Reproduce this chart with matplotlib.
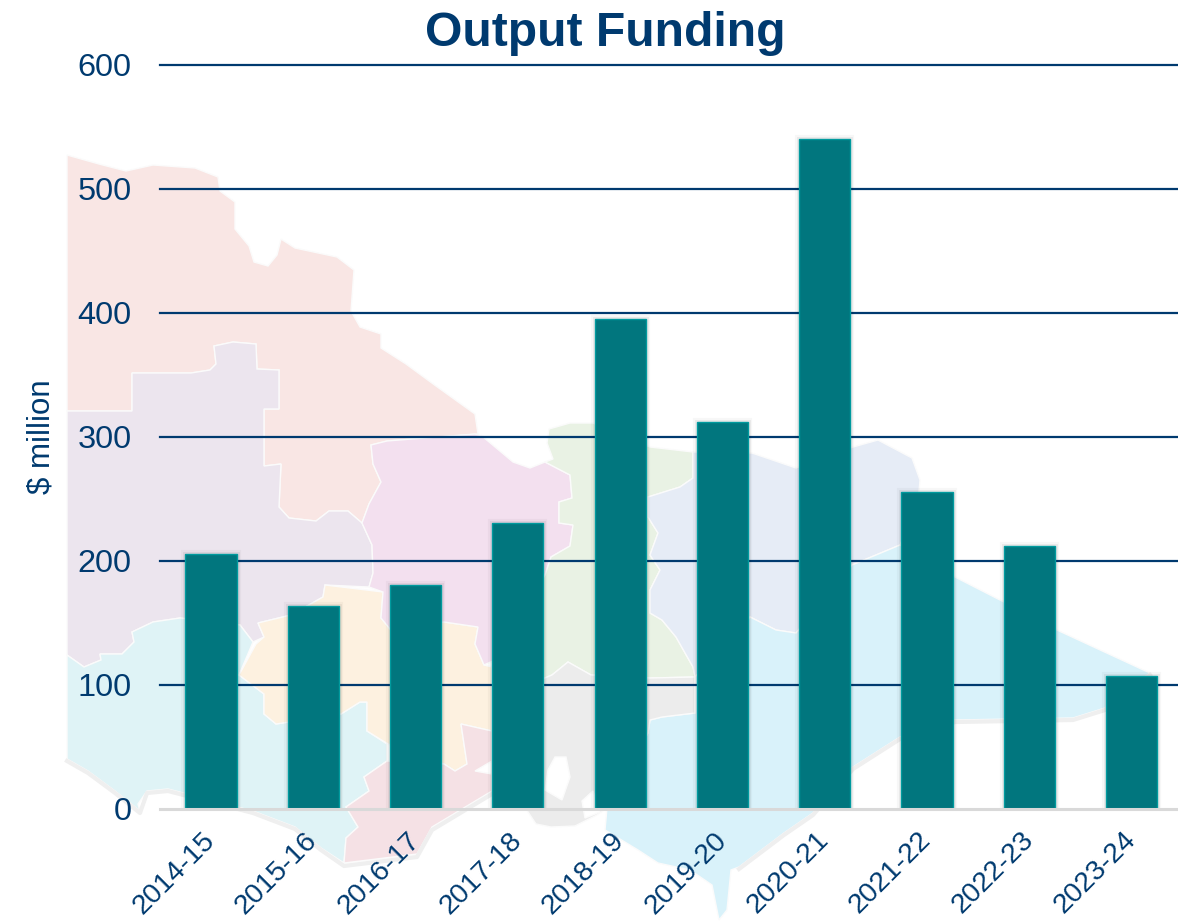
import matplotlib
matplotlib.use("Agg")
import matplotlib.pyplot as plt
import matplotlib.patheffects as pe
from matplotlib.patches import Polygon
from matplotlib.transforms import ScaledTranslation

plt.rcParams["font.family"] = ["Liberation Sans", "DejaVu Sans"]

# ===== DATA =====
years = ["2014-15", "2015-16", "2016-17", "2017-18", "2018-19",
         "2019-20", "2020-21", "2021-22", "2022-23", "2023-24"]
funding = [206, 164, 181, 231, 395, 312, 540, 256, 212, 107]
y_ticks = [0, 100, 200, 300, 400, 500, 600]

NAVY = "#003a6f"
BAR = "#01767e"
BAR_EDGE = "#009a9e"

# ===== BACKGROUND MAP (faded regions, traced in image pixels) =====
mallee = [(67,155),(99,164),(126,171),(153,165),(195,168),(218,177),(220,191),(235,202),
          (235,229),(249,246),(254,262),(268,266),(277,255),(281,239),(295,248),(337,257),
          (354,270),(351,311),(360,327),(381,334),(381,348),(406,364),(436,386),(475,414),
          (478,434),(387,441),(371,445),(373,464),(381,482),(369,504),(362,523),(348,511),
          (329,511),(316,521),(289,518),(279,507),(281,464),(264,466),(264,409),(279,409),
          (279,370),(257,369),(256,344),(233,342),(214,346),(216,364),(210,370),(191,373),
          (132,373),(132,411),(67,411)]
wimmera = [(67,411),(132,411),(132,373),(191,373),(210,370),(216,364),(214,346),(233,342),
           (256,344),(257,369),(279,370),(279,409),(264,409),(264,466),(281,464),(279,507),
           (289,518),(316,521),(329,511),(348,511),(362,523),(372,545),(373,573),(369,587),
           (325,585),(323,597),(291,615),(258,623),(264,637),(253,642),(240,625),(180,618),
           (153,622),(132,632),(134,642),(122,654),(100,654),(101,660),(84,667),(67,655)]
western = [(67,655),(84,667),(101,660),(100,654),(122,654),(134,642),(132,632),(153,622),
           (180,618),(240,625),(253,642),(239,675),(264,694),(264,714),(276,724),(341,714),
           (360,702),(367,702),(367,731),(387,744),(387,761),(364,777),(369,791),(346,807),
           (358,827),(346,838),(344,863),(321,848),(295,827),(253,811),(168,789),(147,791),
           (138,804),(140,811),(115,791),(88,771),(67,759)]
central = [(325,585),(383,592),(381,618),(390,629),(444,622),(478,627),(475,644),(484,665),
           (492,667),(492,731),(461,724),(467,764),(455,771),(444,764),(388,744),(367,731),
           (367,702),(360,702),(341,714),(276,724),(264,714),(264,694),(239,675),(256,644),
           (264,637),(258,623),(291,615),(323,597)]
loddon = [(371,445),(387,441),(475,434),(482,436),(513,462),(530,468),(545,462),(570,475),
          (572,498),(559,502),(559,523),(573,525),(570,546),(551,557),(545,575),(495,660),
          (484,665),(475,644),(478,627),(444,622),(390,629),(381,618),(383,592),(369,587),
          (373,573),(372,545),(362,523),(369,504),(381,482),(373,464)]
goulburn = [(549,429),(570,423),(593,423),(650,447),(693,452),(693,478),(680,487),(648,497),
            (648,517),(658,533),(650,555),(660,570),(650,590),(650,613),(662,620),(676,637),
            (693,667),(695,677),(650,678),(591,675),(568,662),(552,675),(540,680),(495,660),
            (545,575),(551,557),(570,546),(573,525),(559,523),(559,502),(572,498),(570,475),
            (545,462),(553,459),(547,443)]
hume = [(648,497),(680,487),(693,478),(693,452),(752,453),(796,468),(853,447),(878,440),
        (912,458),(920,480),(918,503),(900,545),(852,565),(796,633),(776,630),(750,617),
        (695,677),(693,667),(676,637),(662,620),(650,613),(650,590),(660,570),(650,555),
        (658,533),(648,517)]
gippsland = [(852,565),(900,545),(955,577),(1004,602),(1057,630),(1150,673),(1105,708),
             (1073,718),(955,720),(900,737),(853,767),(813,813),(784,833),(739,867),(731,870),
             (727,910),(719,920),(712,885),(690,870),(658,863),(638,850),(605,830),(607,808),
             (648,733),(650,720),(662,717),(695,713),(695,677),(750,617),(776,630),(796,633)]
metro = [(492,667),(495,660),(540,680),(552,675),(568,662),(591,675),(650,678),(695,677),
         (695,713),(662,717),(650,720),(648,733),(607,808),(597,815),(575,826),(551,827),
         (536,824),(520,800),(492,791),(492,731)]
barwon = [(387,761),(444,764),(455,771),(467,764),(461,724),(492,731),(492,761),(475,771),
          (492,774),(492,791),(432,827),(417,854),(344,863),(346,838),(358,827),(346,807),
          (369,791),(364,777)]
bay = [(555,757),(566,757),(570,777),(562,800),(545,790),(548,770)]
bay2 = [(582,801),(593,791),(600,812),(585,818)]

# soft grey edge along the south coast
coast_west = [(67,761),(88,773),(115,793),(140,813),(147,793),(168,791),(253,813),(295,829),
              (321,850),(344,866),(417,857),(432,830),(492,794)]
coast_east = [(1150,675),(1105,710),(1073,720),(955,722),(900,739),(853,769),(813,815),
              (784,835),(739,869)]

regions = [(mallee, "#f9e6e4"), (wimmera, "#ece5ee"), (western, "#dff3f6"), (central, "#fdf1e0"),
           (loddon, "#f3e0ef"), (goulburn, "#e9f2e4"), (hume, "#e6ecf6"), (gippsland, "#d9f2fa"),
           (metro, "#ececec"), (barwon, "#f5e1e5"), (bay, "white"), (bay2, "white")]

# ===== FIGURE =====
fig = plt.figure(figsize=(11.78, 9.23), dpi=100)

bg = fig.add_axes([0, 0, 1, 1], zorder=0)
bg.set_xlim(0, 1178)
bg.set_ylim(923, 0)
bg.axis("off")
for line in [coast_west, coast_east]:
    bg.plot(*zip(*line), color="#efefef", linewidth=3)
for pts, col in regions:
    bg.add_patch(Polygon(pts, closed=True, facecolor=col, edgecolor="#fbfbfb", linewidth=1))

ax = fig.add_axes([160 / 1178, 1 - 809 / 923, 1 - 160 / 1178, 744 / 923], zorder=1)
ax.patch.set_visible(False)

# grid, not at zero
for tick in y_ticks[1:]:
    ax.axhline(tick, color=NAVY, linewidth=1.6, zorder=1, clip_on=False)

shadow = [pe.Stroke(linewidth=6, foreground="black", alpha=0.03),
          pe.Stroke(linewidth=3.5, foreground="black", alpha=0.06),
          pe.Normal()]
x = list(range(len(years)))
ax.bar(x, funding, width=0.5, color=BAR, edgecolor=BAR_EDGE, linewidth=1.0,
       zorder=3, path_effects=shadow)

ax.set_xlim(-0.4985, 9.453)
ax.set_ylim(0, 600)
ax.set_yticks(y_ticks)
ax.set_xticks(x)
ax.set_xticklabels(years, rotation=45, ha="right", va="top", rotation_mode="anchor")
ax.tick_params(axis="y", length=0, pad=20.5, labelsize=23.4, labelcolor=NAVY)
ax.tick_params(axis="x", length=0, pad=13, labelsize=20.4, labelcolor=NAVY)

# labels sit a little left of the anchor
shift = ScaledTranslation(-9 / 100, 0, fig.dpi_scale_trans)
for lab in ax.get_xticklabels():
    lab.set_transform(lab.get_transform() + shift)

for side in ["top", "left", "right"]:
    ax.spines[side].set_visible(False)
ax.spines["bottom"].set_color("#d9d9d9")
ax.spines["bottom"].set_linewidth(2.2)
ax.spines["bottom"].set_zorder(4)

fig.text(42 / 1178, 1 - 437 / 923, "$ million", rotation=90, ha="center", va="center",
         fontsize=22.5, color=NAVY)
fig.text(605 / 1178, 1 - 46 / 923, "Output Funding", ha="center", va="baseline",
         fontsize=34.6, fontweight="bold", color=NAVY)

fig.savefig("out.png", dpi=100)
